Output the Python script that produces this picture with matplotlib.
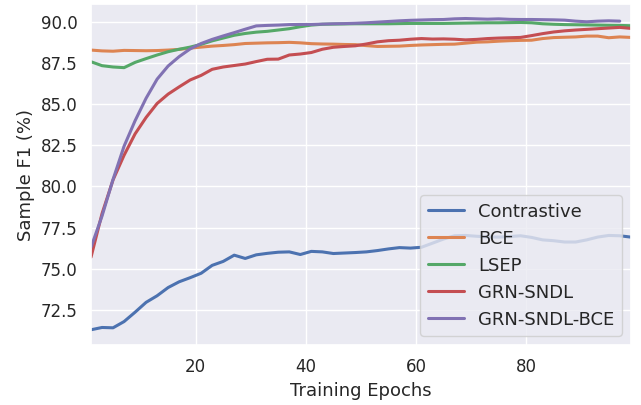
import matplotlib
matplotlib.use("Agg")
import matplotlib.pyplot as plt
import seaborn as sns

epochs = list(range(1, 100, 2))
epochs_gsb = list(range(1, 98, 2))

contrastive = [71.28, 71.42, 71.40, 71.78, 72.35, 72.95, 73.35, 73.85, 74.20, 74.45,
               74.72, 75.20, 75.44, 75.82, 75.62, 75.84, 75.93, 76.00, 76.02, 75.86,
               76.05, 76.02, 75.92, 75.95, 75.98, 76.02, 76.10, 76.20, 76.28, 76.25,
               76.30, 76.55, 76.80, 77.00, 77.02, 76.97, 76.93, 76.92, 76.95, 77.00,
               76.90, 76.75, 76.70, 76.62, 76.62, 76.75, 76.92, 77.02, 77.00, 76.92]
bce = [88.30, 88.25, 88.23, 88.28, 88.27, 88.26, 88.27, 88.30, 88.34, 88.42,
       88.48, 88.54, 88.58, 88.63, 88.70, 88.72, 88.74, 88.75, 88.77, 88.74,
       88.69, 88.67, 88.66, 88.64, 88.63, 88.57, 88.52, 88.53, 88.54, 88.58,
       88.61, 88.63, 88.65, 88.66, 88.72, 88.78, 88.80, 88.84, 88.87, 88.89,
       88.90, 89.00, 89.06, 89.08, 89.10, 89.15, 89.15, 89.05, 89.10, 89.07]
lsep = [87.59, 87.35, 87.27, 87.23, 87.55, 87.78, 88.00, 88.20, 88.35, 88.48,
        88.65, 88.86, 89.03, 89.20, 89.31, 89.39, 89.44, 89.52, 89.60, 89.72,
        89.82, 89.87, 89.88, 89.89, 89.90, 89.90, 89.90, 89.90, 89.91, 89.92,
        89.92, 89.92, 89.92, 89.93, 89.94, 89.95, 89.96, 89.96, 89.97, 89.98,
        89.96, 89.90, 89.87, 89.85, 89.84, 89.83, 89.82, 89.81, 89.80, 89.78]
grn_sndl = [75.70, 78.35, 80.40, 81.90, 83.20, 84.20, 85.05, 85.62, 86.06, 86.48,
            86.76, 87.13, 87.27, 87.36, 87.45, 87.60, 87.74, 87.75, 88.00, 88.06,
            88.15, 88.35, 88.47, 88.52, 88.56, 88.67, 88.80, 88.87, 88.90, 88.96,
            89.00, 88.97, 88.98, 88.96, 88.92, 88.95, 89.00, 89.03, 89.05, 89.07,
            89.18, 89.30, 89.40, 89.47, 89.52, 89.56, 89.60, 89.64, 89.68, 89.62]
grn_sndl_bce = [76.30, 78.20, 80.43, 82.45, 84.00, 85.37, 86.53, 87.33, 87.90, 88.37,
                88.70, 88.95, 89.16, 89.36, 89.57, 89.77, 89.80, 89.82, 89.85, 89.86,
                89.86, 89.88, 89.90, 89.91, 89.93, 89.96, 90.00, 90.04, 90.08, 90.11,
                90.13, 90.15, 90.16, 90.20, 90.22, 90.20, 90.18, 90.20, 90.17, 90.16,
                90.16, 90.15, 90.14, 90.12, 90.06, 90.02, 90.06, 90.08, 90.06]

names = ["Contrastive", "BCE", "LSEP", "GRN-SNDL", "GRN-SNDL-BCE"]

sns.set_theme(style="darkgrid")
pal = sns.color_palette("deep")

fig = plt.figure(figsize=(6.41, 4.05), dpi=100)
ax = fig.add_axes([0.142, 0.148, 0.842, 0.842])

series = [(epochs, contrastive), (epochs, bce), (epochs, lsep),
          (epochs, grn_sndl), (epochs_gsb, grn_sndl_bce)]
for i, ((xs, ys), name) in enumerate(zip(series, names)):
    ax.plot(xs, ys, color=pal[i], lw=2.2, label=name)

ax.set_xlim(1, 99)
ax.set_ylim(70.35, 91.1)
ax.set_yticks([72.5, 75.0, 77.5, 80.0, 82.5, 85.0, 87.5, 90.0])
ax.set_yticklabels(["72.5", "75.0", "77.5", "80.0", "82.5", "85.0", "87.5", "90.0"])
ax.set_xticks([20, 40, 60, 80])
ax.tick_params(labelsize=12)
ax.set_xlabel("Training Epochs", fontsize=13)
ax.set_ylabel("Sample F1 (%)", fontsize=13)
ax.legend(loc="lower right", fontsize=13)

fig.savefig("out.png", dpi=100)
